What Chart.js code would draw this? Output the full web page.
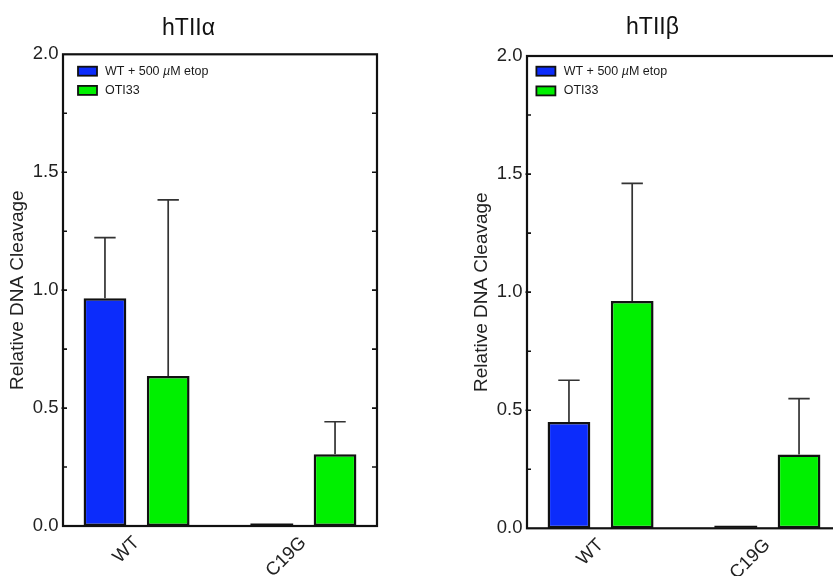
<!DOCTYPE html>
<html>
<head>
<meta charset="utf-8">
<title>Relative DNA cleavage</title>
<script src="https://cdn.jsdelivr.net/npm/chart.js@4.4.1/dist/chart.umd.min.js"></script>
<style>
  html, body { margin: 0; padding: 0; background: #fff; overflow: hidden; }
  body { width: 833px; height: 576px; position: relative; }
  .panel { position: absolute; top: 0; width: 440px; height: 576px; }
  #panelA { left: 0; }
  #panelB { left: 464px; }
</style>
</head>
<body>
<div class="panel" id="panelA"><canvas id="chartA" width="440" height="576"></canvas></div>
<div class="panel" id="panelB"><canvas id="chartB" width="440" height="576"></canvas></div>
<script>
const categories = ['WT', 'C19G'];
const seriesLabels = ['WT + 500 µM etop', 'OTI33'];
const yTicks = [0, 0.5, 1.0, 1.5, 2.0];

// hTIIα: mean and upper error
const alphaEtop = [0.966, 0];
const alphaEtopErr = [0.257, 0];
const alphaOti = [0.636, 0.304];
const alphaOtiErr = [0.747, 0.138];

// hTIIβ
const betaEtop = [0.450, 0];
const betaEtopErr = [0.177, 0];
const betaOti = [0.962, 0.313];
const betaOtiErr = [0.499, 0.236];

const BLUE = '#0c2cfb';
const GREEN = '#00f000';
const INK = '#111';
const FONT = "'Liberation Sans', Arial, sans-serif";

Chart.defaults.font.family = FONT;
Chart.defaults.color = '#222';

// Upward error bars, plus a flat line for bars sitting at zero
const errorBars = {
    id: 'errorBars',
    afterDatasetsDraw(chart) {
        const ctx = chart.ctx;
        const yScale = chart.scales.y;
        ctx.save();
        chart.data.datasets.forEach((ds, i) => {
            const meta = chart.getDatasetMeta(i);
            meta.data.forEach((bar, j) => {
                const v = ds.data[j].y;
                const err = ds.errors[j];
                const half = bar.width / 2;
                if (v === 0) {
                    ctx.strokeStyle = INK;
                    ctx.lineWidth = 2;
                    ctx.beginPath();
                    ctx.moveTo(bar.x - half, bar.base - 1.5);
                    ctx.lineTo(bar.x + half, bar.base - 1.5);
                    ctx.stroke();
                }
                if (!err) return;
                const yTop = yScale.getPixelForValue(v + err);
                ctx.strokeStyle = '#333';
                ctx.lineWidth = 1.7;
                ctx.beginPath();
                ctx.moveTo(bar.x, bar.y);
                ctx.lineTo(bar.x, yTop);
                ctx.moveTo(bar.x - half / 2, yTop);
                ctx.lineTo(bar.x + half / 2, yTop);
                ctx.stroke();
            });
        });
        ctx.restore();
    }
};

// Box around the plot with small inward ticks on both sides
const frame = {
    id: 'frame',
    afterDraw(chart) {
        const {ctx, chartArea} = chart;
        const yScale = chart.scales.y;
        ctx.save();
        ctx.strokeStyle = INK;
        ctx.lineWidth = 2.2;
        ctx.strokeRect(chartArea.left, chartArea.top, chartArea.width, chartArea.height);
        ctx.lineWidth = 1.6;
        ctx.beginPath();
        for (let v = 0.25; v < 2; v += 0.25) {
            const py = yScale.getPixelForValue(v);
            const major = Math.abs(v * 2 - Math.round(v * 2)) < 1e-6;
            ctx.moveTo(chartArea.left - (major ? 1.5 : 0), py);
            ctx.lineTo(chartArea.left + 4, py);
            ctx.moveTo(chartArea.right - 5, py);
            ctx.lineTo(chartArea.right, py);
        }
        ctx.stroke();
        ctx.restore();
    }
};

// Legend drawn inside the plot's top-left corner
const boxLegend = {
    id: 'boxLegend',
    afterDraw(chart, args, opts) {
        const {ctx, chartArea} = chart;
        ctx.save();
        ctx.textBaseline = 'middle';
        chart.data.datasets.forEach((ds, i) => {
            const bx = chartArea.left + opts.x;
            const by = chartArea.top + opts.y + i * opts.gap;
            ctx.fillStyle = ds.backgroundColor;
            ctx.fillRect(bx, by, 19, 9);
            ctx.strokeStyle = INK;
            ctx.lineWidth = 1.8;
            ctx.strokeRect(bx, by, 19, 9);

            let tx = chartArea.left + opts.textX;
            const ty = by + 4.5;
            ctx.fillStyle = '#1a1a1a';
            const parts = ds.label.split('µ');
            parts.forEach((p, k) => {
                ctx.font = '12.5px ' + FONT;
                ctx.fillText(p, tx, ty);
                tx += ctx.measureText(p).width;
                if (k < parts.length - 1) {
                    ctx.font = 'italic 12.5px ' + FONT;
                    ctx.fillText('µ', tx, ty);
                    tx += ctx.measureText('µ').width;
                }
            });
        });
        ctx.restore();
    }
};

function makeChart(id, title, etop, etopErr, oti, otiErr, cfg) {
    const toPoints = vals => categories.map((c, i) => ({x: i, y: vals[i]}));
    const barStyle = {
        borderColor: INK,
        borderWidth: 2.5,
        borderSkipped: false,
        categoryPercentage: 0.758,
        barPercentage: 0.676
    };
    return new Chart(document.getElementById(id), {
        type: 'bar',
        data: {
            datasets: [
                Object.assign({
                    label: seriesLabels[0],
                    data: toPoints(etop),
                    errors: etopErr,
                    backgroundColor: BLUE
                }, barStyle),
                Object.assign({
                    label: seriesLabels[1],
                    data: toPoints(oti),
                    errors: otiErr,
                    backgroundColor: GREEN
                }, barStyle)
            ]
        },
        options: {
            responsive: false,
            animation: false,
            devicePixelRatio: 1,
            layout: { padding: { left: 0, right: 63, top: 0, bottom: 0 } },
            plugins: {
                legend: { display: false },
                tooltip: { enabled: false },
                title: {
                    display: true,
                    text: title,
                    color: '#111',
                    font: { size: 23, weight: 'normal' },
                    padding: { top: cfg.titleTop, bottom: cfg.titleBottom }
                },
                boxLegend: cfg.legend
            },
            scales: {
                x: {
                    type: 'linear',
                    offset: false,
                    min: -0.441,
                    max: 1.441,
                    grid: { display: false, drawTicks: false },
                    border: { display: false },
                    afterBuildTicks: s => { s.ticks = categories.map((c, i) => ({ value: i })); },
                    afterFit: s => { s.height = cfg.xHeight; },
                    ticks: {
                        minRotation: 45,
                        maxRotation: 45,
                        padding: 6,
                        font: { size: 18.5 },
                        callback: v => categories[v]
                    }
                },
                y: {
                    min: 0,
                    max: 2,
                    afterBuildTicks: s => { s.ticks = yTicks.map(v => ({ value: v })); },
                    afterFit: s => { s.width = 63; },
                    grid: { display: false, drawTicks: false },
                    border: { display: false },
                    ticks: {
                        padding: 4.5,
                        font: { size: 18.5 },
                        callback: v => v.toFixed(1)
                    },
                    title: {
                        display: true,
                        text: 'Relative DNA Cleavage',
                        font: { size: 19 },
                        padding: { top: 6.5, bottom: 0 }
                    }
                }
            }
        },
        plugins: [errorBars, frame, boxLegend]
    });
}

makeChart('chartA', 'hTIIα', alphaEtop, alphaEtopErr, alphaOti, alphaOtiErr, {
    titleTop: 14.8, titleBottom: 11.9, xHeight: 50,
    legend: { x: 15, y: 12.4, gap: 19.2, textX: 42 }
});
makeChart('chartB', 'hTIIβ', betaEtop, betaEtopErr, betaOti, betaOtiErr, {
    titleTop: 14.2, titleBottom: 14.2, xHeight: 47.7,
    legend: { x: 9.4, y: 10.7, gap: 19.7, textX: 36.7 }
});
</script>
</body>
</html>
